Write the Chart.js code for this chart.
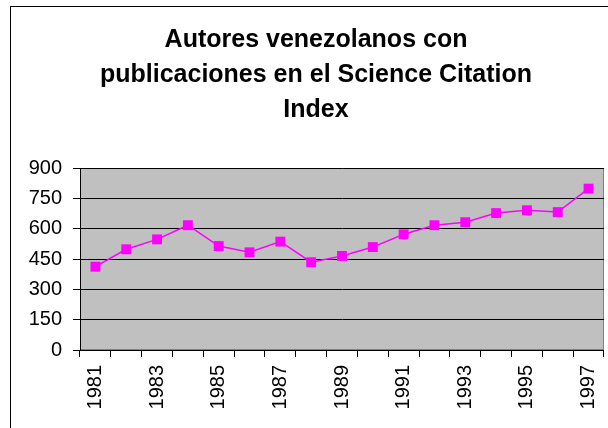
<!DOCTYPE html>
<html>
<head>
<meta charset="utf-8">
<script src="https://cdn.jsdelivr.net/npm/chart.js@4/dist/chart.umd.min.js"></script>
<style>
    body { margin: 0; background: #ffffff; overflow: hidden; }
    #rahmen {
        position: absolute;
        left: 10px;
        top: 6px;
        width: 630px;
        height: 440px;
        border: 1px solid #000000;
    }
    #diagramm { display: block; }
</style>
</head>
<body>
<div id="rahmen">
    <canvas id="diagramm" width="610" height="421"></canvas>
</div>
<script>
// Jahre und Anzahl der Autoren
const jahre = ['1981', '1982', '1983', '1984', '1985', '1986', '1987', '1988', '1989',
               '1990', '1991', '1992', '1993', '1994', '1995', '1996', '1997'];
const autoren = [412, 498, 547, 617, 514, 483, 536, 434, 465, 509, 572, 617, 632, 677, 691, 682, 798];
const titelZeilen = ['Autores venezolanos con', 'publicaciones en el Science Citation', 'Index'];
const yMin = 0;
const yMax = 900;
const ySchritt = 150;

/**
 * Zeichnet den grauen Hintergrund und den Rahmen des Plotbereichs
 */
const plotHintergrund = {
    id: 'plotHintergrund',
    beforeDraw(chart) {
        const { ctx, chartArea } = chart;
        ctx.save();
        ctx.fillStyle = '#c0c0c0';
        ctx.fillRect(chartArea.left, chartArea.top, chartArea.right - chartArea.left, chartArea.bottom - chartArea.top);
        ctx.strokeStyle = '#808080';
        ctx.lineWidth = 1;
        ctx.strokeRect(chartArea.left + 0.5, chartArea.top + 0.5,
                       chartArea.right - chartArea.left - 1, chartArea.bottom - chartArea.top - 1);
        ctx.restore();
    }
};

const ctx = document.getElementById('diagramm').getContext('2d');

new Chart(ctx, {
    type: 'line',
    data: {
        labels: jahre,
        datasets: [{
            label: 'Autores',
            data: autoren,
            borderColor: '#ff00ff',
            backgroundColor: '#ff00ff',
            borderWidth: 1.5,
            pointStyle: 'rect',
            pointRadius: 7,
            pointHoverRadius: 7,
            pointBorderWidth: 0,
            tension: 0,
            fill: false
        }]
    },
    options: {
        responsive: false,
        animation: false,
        layout: {
            padding: { left: 15, right: 15, top: 0, bottom: 0 }
        },
        plugins: {
            legend: { display: false },
            tooltip: { enabled: false },
            title: {
                display: true,
                text: titelZeilen,
                color: '#000000',
                font: { family: '"Liberation Sans", Arial, sans-serif', size: 25, weight: 'bold', lineHeight: 1.4 },
                padding: { top: 16, bottom: 40 }
            }
        },
        scales: {
            x: {
                offset: true,
                border: { display: true, color: '#000000', width: 1 },
                grid: {
                    offset: true,
                    drawOnChartArea: false,
                    drawTicks: true,
                    tickLength: 7,
                    color: '#000000'
                },
                ticks: {
                    autoSkip: false,
                    maxRotation: 90,
                    minRotation: 90,
                    padding: 8,
                    color: '#000000',
                    font: { family: '"Liberation Sans", Arial, sans-serif', size: 20 },
                    callback: function (wert, index) {
                        return index % 2 === 0 ? this.getLabelForValue(wert) : '';
                    }
                },
                afterFit(skala) {
                    skala.height = 78;
                }
            },
            y: {
                min: yMin,
                max: yMax,
                border: { display: true, color: '#000000', width: 1 },
                grid: {
                    color: '#000000',
                    lineWidth: 1,
                    drawTicks: true,
                    tickLength: 7
                },
                ticks: {
                    stepSize: ySchritt,
                    padding: 11,
                    color: '#000000',
                    font: { family: '"Liberation Sans", Arial, sans-serif', size: 20 }
                },
                afterFit(skala) {
                    skala.width = 54;
                }
            }
        }
    },
    plugins: [plotHintergrund]
});
</script>
</body>
</html>
